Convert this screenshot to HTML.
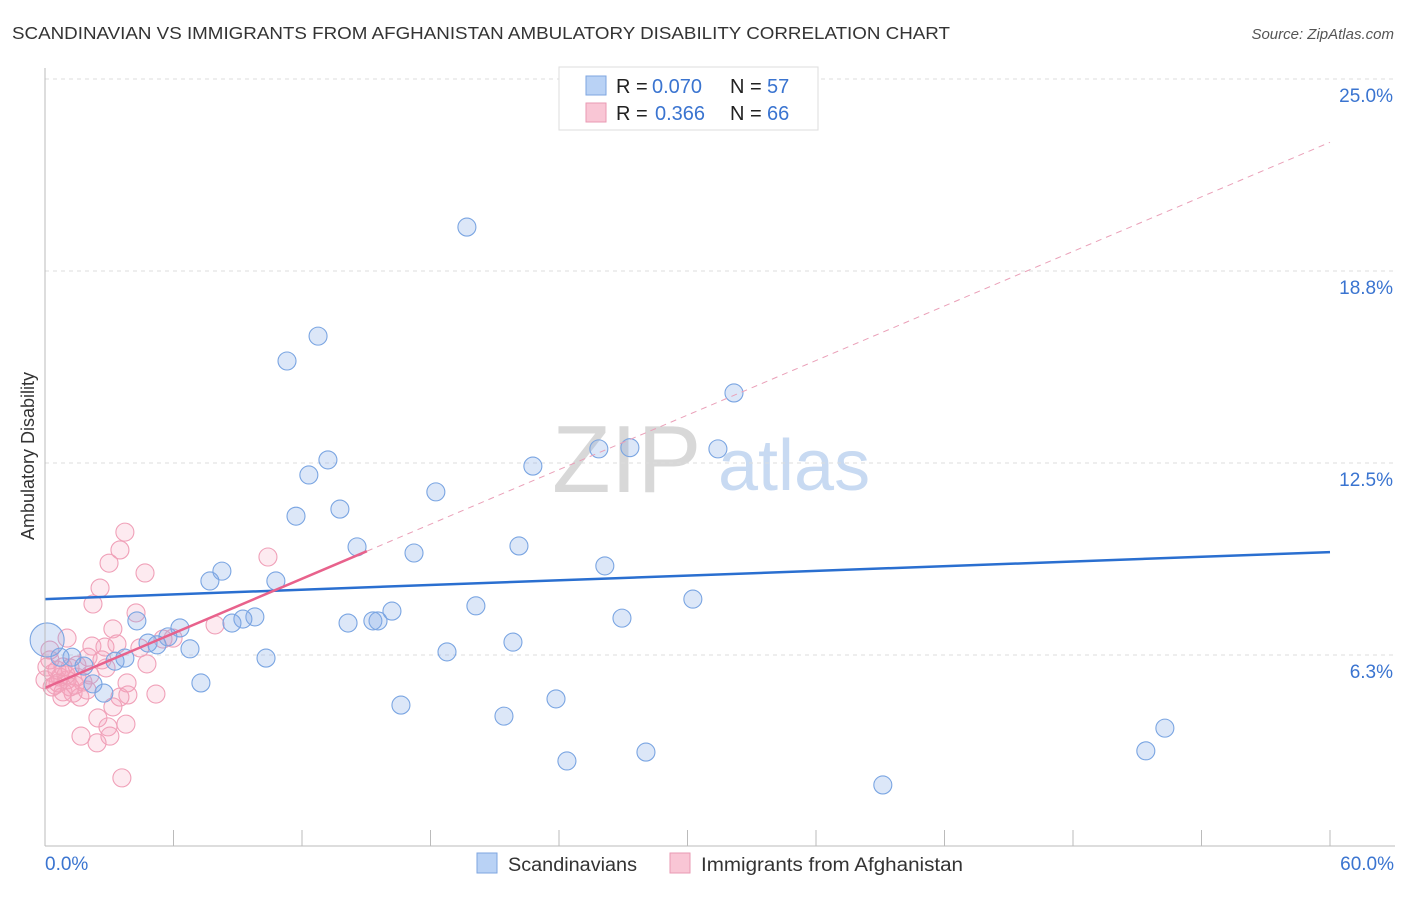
<!DOCTYPE html>
<html><head><meta charset="utf-8"><style>
body{margin:0;background:#fff;font-family:"Liberation Sans",sans-serif}
svg text{font-family:"Liberation Sans",sans-serif}
</style></head><body>
<svg width="1406" height="892" id="c">
<text x="12" y="39" font-size="17.5" fill="#333" textLength="938" lengthAdjust="spacingAndGlyphs">SCANDINAVIAN VS IMMIGRANTS FROM AFGHANISTAN AMBULATORY DISABILITY CORRELATION CHART</text>
<text x="1394" y="39" font-size="15" fill="#555" font-style="italic" text-anchor="end">Source: ZipAtlas.com</text>
<text x="34" y="456" font-size="18" fill="#333" text-anchor="middle" transform="rotate(-90 34 456)">Ambulatory Disability</text>
<g><text x="552" y="492" font-size="96" font-family="Liberation Serif" fill="#d8d8d8">ZIP</text><text x="718" y="490" font-size="72" fill="#c8daf2">atlas</text></g>
<g id="grid"></g><g id="pts"></g><g id="lines"></g>
<line x1="45" y1="68" x2="45" y2="846" stroke="#bbb"/>
<line x1="45" y1="846" x2="1395" y2="846" stroke="#bbb"/>
<text x="45" y="870" font-size="19" fill="#3a74d0">0.0%</text>
<text x="1394" y="870" font-size="19" fill="#3a74d0" text-anchor="end">60.0%</text>
<g>
<rect x="559" y="67" width="259" height="63" fill="#fff" stroke="#ddd"/>
<rect x="586" y="76" width="20" height="19" fill="#b9d2f5" stroke="#7ea6e0"/>
<rect x="586" y="103" width="20" height="19" fill="#f9c6d5" stroke="#e99ab3"/>
<text x="616" y="93" font-size="20" fill="#222">R =</text>
<text x="652" y="93" font-size="20" fill="#3a74d0">0.070</text>
<text x="730" y="93" font-size="20" fill="#222">N =</text>
<text x="767" y="93" font-size="20" fill="#3a74d0">57</text>
<text x="616" y="120" font-size="20" fill="#222">R =</text>
<text x="655" y="120" font-size="20" fill="#3a74d0">0.366</text>
<text x="730" y="120" font-size="20" fill="#222">N =</text>
<text x="767" y="120" font-size="20" fill="#3a74d0">66</text>
</g>
<g>
<rect x="477" y="853" width="20" height="20" fill="#b9d2f5" stroke="#7ea6e0"/>
<text x="508" y="871" font-size="19" fill="#333" textLength="129" lengthAdjust="spacingAndGlyphs">Scandinavians</text>
<rect x="670" y="853" width="20" height="20" fill="#f9c6d5" stroke="#e99ab3"/>
<text x="701" y="871" font-size="19" fill="#333" textLength="262" lengthAdjust="spacingAndGlyphs">Immigrants from Afghanistan</text>
</g>
</svg>
<script>
const yTicks=[6.25,12.5,18.75,25];
const yTickLabels=["6.3%","12.5%","18.8%","25.0%"];
const xTicks=[0,6,12,18,24,30,36,42,48,54,60];
const blueX=[19.70,12.75,11.30,32.17,25.86,27.31,31.42,13.21,22.78,12.32,18.25,13.77,11.72,14.57,22.13,17.23,8.26,7.70,10.78,26.14,30.25,20.12,16.20,15.55,15.31,14.15,9.80,9.24,8.73,26.94,4.29,6.30,5.74,5.23,4.81,21.85,6.77,18.77,10.32,3.73,3.27,1.26,0.70,1.82,2.24,7.28,2.75,23.86,16.62,21.43,52.29,51.40,28.06,24.37,39.12,29.18,0.1];
const blueY=[20.18,16.63,15.82,14.78,12.96,13.0,12.96,12.60,12.40,12.11,11.56,11.0,10.77,9.77,9.80,9.57,8.98,8.66,8.66,9.15,8.07,7.85,7.68,7.36,7.36,7.29,7.49,7.42,7.29,7.45,7.36,7.13,6.84,6.58,6.64,6.67,6.45,6.35,6.15,6.15,6.05,6.18,6.18,5.89,5.31,5.34,5.01,4.82,4.62,4.26,3.87,3.13,3.09,2.80,2.02,24.64,6.74];
const pinkX=[3.73,3.50,2.99,4.67,2.57,2.24,10.41,4.25,1.03,3.17,7.94,2.19,2.80,3.36,4.43,5.51,5.98,4.76,2.66,2.85,0.23,0.23,0.37,0.61,1.03,1.49,1.77,0.84,1.31,1.63,1.17,0.70,3.83,3.87,3.50,5.18,3.17,2.47,2.94,3.78,3.03,1.68,2.43,3.59,0.09,0.56,0.84,2.01,1.17,1.49,0.33,1.96,0,0.79,0.47,1.40,0.98,2.1];
const pinkY=[10.25,9.67,9.24,8.92,8.43,7.91,9.44,7.62,6.80,7.10,7.23,6.54,6.51,6.61,6.48,6.77,6.80,5.96,6.09,5.83,6.41,6.09,5.66,5.34,5.44,5.53,5.37,5.05,5.01,4.88,5.21,5.53,5.34,4.95,4.88,4.98,4.56,4.20,3.91,4.00,3.61,3.61,3.39,2.25,5.86,5.76,5.86,6.18,5.83,5.92,5.21,5.11,5.44,4.88,5.27,5.27,5.6,5.6];
const blueLine=[8.07,0.0255];
const pinkLine=[5.18,0.296];
const pinkSolidEnd=15.03;
const X=v=>45+v*1285/60, Y=v=>847-v*30.72;
const NS="http://www.w3.org/2000/svg";
function mk(t,a,p){const e=document.createElementNS(NS,t);for(const k in a)e.setAttribute(k,a[k]);p.appendChild(e);return e;}
const g=document.getElementById('grid');
yTicks.forEach((v,i)=>{
 const l=mk('line',{x1:45,x2:1395,y1:Y(v),y2:Y(v),stroke:'#ddd','stroke-dasharray':'4,4'},g);
 
 
 const t=mk('text',{x:1393,y:Y(v)+23,'font-size':19,fill:'#3a74d0','text-anchor':'end'},g);
 t.textContent=yTickLabels[i];
 
 
});
xTicks.forEach(v=>{
 const l=mk('line',{x1:X(v),x2:X(v),y1:830,y2:846,stroke:'#bbb'},g);
 
 
});
const p=document.getElementById('pts');
pinkX.forEach((x,i)=>{
 const c=mk('circle',{cx:X(x),cy:Y(pinkY[i]),r:9,fill:'rgba(245,160,185,0.22)',stroke:'#f0a0b8','stroke-width':1.1},p);
 
 
});
blueX.forEach((x,i)=>{
 const c=mk('circle',{cx:X(x),cy:Y(blueY[i]),r:i==blueX.length-1?17:9,fill:'rgba(130,170,230,0.28)',stroke:'#7aa5e2','stroke-width':1.1},p);
 
 
});
const L=document.getElementById('lines');
let a=mk('line',{x1:X(0),y1:Y(blueLine[0]),x2:X(60),y2:Y(blueLine[0]+blueLine[1]*60),stroke:'#2a6fd0','stroke-width':2.5},L);


a=mk('line',{x1:X(pinkSolidEnd),y1:Y(pinkLine[0]+pinkLine[1]*pinkSolidEnd),x2:X(60),y2:Y(pinkLine[0]+pinkLine[1]*60),stroke:'#eaa0b8','stroke-width':1,'stroke-dasharray':'6,5'},L);


a=mk('line',{x1:X(0),y1:Y(pinkLine[0]),x2:X(pinkSolidEnd),y2:Y(pinkLine[0]+pinkLine[1]*pinkSolidEnd),stroke:'#e8628c','stroke-width':2.5},L);


</script>
</body></html>
